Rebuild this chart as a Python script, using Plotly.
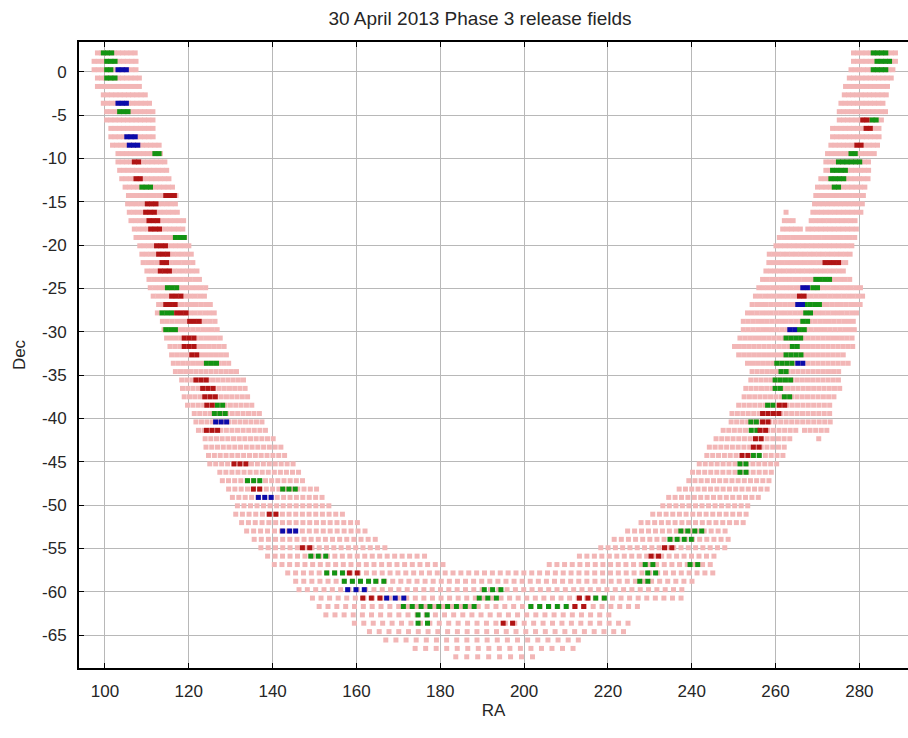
import math
import plotly.graph_objects as go

# ---------------- data ----------------
TITLE = "30 April 2013 Phase 3 release fields"
X_TICKS = [100, 120, 140, 160, 180, 200, 220, 240, 260, 280]
Y_TICKS = [0, -5, -10, -15, -20, -25, -30, -35, -40, -45, -50, -55, -60, -65]

# Declination of every row of survey fields (top to bottom)
ROW_DEC = [2.19, 1.22, 0.25, -0.71, -1.68, -2.65, -3.62, -4.59, -5.55, -6.52,
           -7.49, -8.46, -9.43, -10.39, -11.36, -12.33, -13.30, -14.27, -15.23, -16.20,
           -17.17, -18.14, -19.11, -20.07, -21.04, -22.01, -22.98, -23.95, -24.91, -25.88,
           -26.85, -27.82, -28.79, -29.75, -30.72, -31.69, -32.66, -33.63, -34.59, -35.56,
           -36.53, -37.50, -38.47, -39.43, -40.40, -41.37, -42.34, -43.31, -44.27, -45.24,
           -46.21, -47.18, -48.15, -49.11, -50.08, -51.05, -52.02, -52.99, -53.95, -54.92,
           -55.89, -56.86, -57.83, -58.79, -59.76, -60.73, -61.70, -62.67, -63.63, -64.60,
           -65.57, -66.54, -67.51]

# RA of first / last field of the left arm (rows 62+ : whole row)
LEFT_FIRST = [98.2, 97.4, 97.4, 98.2, 98.2, 99.6, 99.6, 100.4, 100.4, 101.4,
              101.4, 101.8, 103.1, 103.1, 103.5, 104.0, 104.8, 105.6, 105.4, 105.8,
              106.2, 107.0, 107.4, 108.3, 108.8, 109.1, 110.0, 110.5, 110.8, 111.5,
              112.8, 112.5, 113.7, 114.1, 114.7, 115.5, 115.9, 116.3, 116.8, 118.3,
              118.5, 118.9, 119.7, 121.3, 121.7, 122.3, 123.9, 124.1, 124.7, 125.0,
              127.4, 128.0, 129.5, 130.4, 131.6, 131.2, 132.6, 133.8, 135.6, 137.2,
              138.8, 140.4,
              143.6, 145.5, 146.3, 149.5, 151.1, 152.7, 159.5, 163.1, 167.0, 174.0, 183.7]
LEFT_LAST = [107.0, 107.9, 107.9, 108.7, 108.7, 109.7, 110.9, 111.1, 111.3, 111.9,
             111.9, 113.3, 113.3, 114.1, 114.3, 114.9, 115.9, 116.5, 117.1, 117.7,
             118.5, 118.5, 119.3, 119.7, 120.3, 120.7, 121.7, 122.1, 123.5, 123.5,
             124.9, 125.7, 125.7, 126.8, 127.8, 128.3, 129.4, 130.0, 130.8, 132.6,
             133.2, 133.6, 135.2, 136.2, 138.0, 138.8, 139.6, 141.6, 142.4, 144.3,
             145.5, 146.7, 149.9, 151.4, 153.5, 156.3, 160.3, 162.2, 164.3, 167.4,
             176.6, 181.3,
             244.2, 239.7, 237.4, 237.1, 227.1, 219.9, 223.9, 223.1, 213.6, 212.8, 202.0]
# RA of first / last field of the right arm (rows 0..61)
RIGHT_FIRST = [278.6, 278.6, 278.0, 277.6, 276.7, 276.4, 275.6, 275.2, 275.2, 273.6,
               273.6, 273.2, 272.4, 272.0, 272.0, 270.8, 270.0, 269.6, 269.3, 268.9,
               268.5, 267.7, 260.9, 260.1, 258.5, 258.4, 257.7, 256.9, 256.0, 255.2,
               254.4, 253.3, 252.3, 252.3, 251.5, 250.2, 251.2, 253.3, 254.4, 254.1,
               252.9, 252.5, 251.2, 249.6, 249.4, 247.5, 245.8, 244.2, 243.6, 241.8,
               240.2, 239.3, 237.0, 234.5, 233.1, 230.7, 227.9, 224.7, 221.5, 218.3,
               213.2, 206.0]
RIGHT_LAST = [289.1, 289.1, 287.9, 287.7, 286.9, 286.8, 286.1, 285.8, 285.6, 284.8,
              284.4, 284.4, 284.0, 282.6, 282.6, 282.4, 281.2, 280.8, 280.4, 280.0,
              279.4, 279.2, 278.8, 278.0, 277.6, 276.8, 276.4, 277.2, 280.4, 280.8,
              280.0, 278.8, 278.4, 279.2, 278.6, 278.0, 276.4, 276.8, 275.6, 275.5,
              274.7, 274.4, 273.2, 273.2, 272.6, 264.5, 262.9, 261.7, 261.3, 259.7,
              259.7, 257.9, 257.3, 256.5, 254.1, 253.7, 252.9, 248.2, 249.4, 248.6,
              245.8, 245.0]
# isolated pieces of rows
EXTRA_ROW = [19, 20, 21, 45, 46]
EXTRA_FIRST = [262.5, 262.1, 261.7, 266.9, 270.3]
EXTRA_LAST = [262.5, 263.7, 265.7, 272.4, 270.3]

# released fields: row index, RA of first and last field of each block
GREEN_ROW = [0, 1, 2, 3, 7, 12, 16, 22, 28, 31, 33, 37, 42, 43, 51, 52, 60, 62, 63, 63,
             64, 65, 65, 66, 66, 67, 68, 57, 58, 61, 61, 62, 63, 0, 1, 2, 8, 12, 13, 14,
             15, 16, 27, 28, 30, 31, 32, 33, 34, 35, 36, 37, 38, 39, 40, 41, 42, 44, 45, 48,
             49, 50]
GREEN_FIRST = [99.6, 100.4, 100.4, 100.4, 103.5, 111.9, 108.8, 116.8, 114.9, 113.6, 114.5, 124.2,
               126.8, 126.1, 134.0, 142.4, 149.1, 152.9, 157.1, 164.6, 190.5, 189.3, 217.1,
               171.2, 201.6, 174.7, 174.7, 237.4, 234.8, 228.9, 239.6, 229.5, 227.6, 283.3,
               284.2, 283.3, 283.0, 278.0, 275.0, 273.6, 273.2, 274.0, 269.6, 268.9, 267.1,
               267.2, 266.5, 265.7, 262.5, 264.0, 262.5, 260.3, 261.3, 259.9, 259.9, 262.1,
               258.1, 254.1, 254.2, 254.7, 251.5, 251.5]
GREEN_LAST = [101.4, 102.2, 101.4, 102.3, 105.4, 112.9, 111.1, 119.0, 117.3, 115.9, 116.9, 127.0,
              128.4, 128.8, 136.8, 145.9, 152.7, 157.1, 162.2, 166.2, 194.5, 193.3, 219.0,
              187.3, 210.4, 177.0, 177.0, 242.6, 239.8, 231.0, 241.8, 231.5, 229.5, 286.1,
              287.0, 286.1, 284.0, 279.2, 279.8, 276.8, 276.4, 275.2, 272.8, 270.1, 270.7,
              268.4, 268.1, 267.2, 266.5, 265.4, 266.5, 264.1, 262.7, 263.7, 261.3, 263.7,
              259.7, 255.7, 255.3, 256.1, 252.9, 252.9]

RED_ROW = [13, 15, 17, 18, 19, 20, 21, 23, 24, 25, 26, 29, 30, 31, 32, 34, 35, 36, 39, 40,
           41, 42, 45, 49, 52, 55, 59, 62, 65, 68, 66, 65, 59, 60, 8, 9, 11, 25, 29, 42,
           43, 44, 45, 46, 47, 48]
RED_FIRST = [107.0, 107.4, 114.5, 110.1, 109.7, 110.5, 110.9, 112.3, 112.8, 113.6, 113.2, 115.9,
             114.5, 117.1, 120.2, 118.9, 118.9, 120.7, 121.7, 123.3, 123.8, 124.3, 124.2,
             130.8, 135.4, 139.2, 147.1, 158.3, 161.5, 195.0, 212.1, 213.2, 233.5, 230.3,
             280.8, 281.6, 279.4, 271.8, 265.7, 260.9, 256.9, 256.9, 256.3, 255.2, 254.7, 252.0]
RED_LAST = [108.2, 108.9, 116.5, 112.4, 112.0, 112.5, 113.3, 114.7, 115.1, 114.7, 115.6, 118.3,
            116.9, 119.0, 122.6, 121.3, 121.3, 121.8, 124.3, 125.7, 126.4, 125.7, 127.0,
            133.6, 136.8, 140.8, 149.1, 160.1, 165.4, 197.3, 214.0, 215.0, 235.2, 232.3,
            281.8, 282.6, 280.4, 274.9, 267.0, 262.2, 260.9, 258.1, 257.7, 256.5, 256.1, 253.5]

BLUE_ROW = [2, 6, 10, 11, 44, 53, 57, 57, 64, 65, 28, 30, 33, 37]
BLUE_FIRST = [103.1, 103.1, 105.2, 105.8, 126.4, 136.6, 142.4, 145.5, 157.9, 167.2,
              266.5, 265.3, 263.4, 265.3]
BLUE_LAST = [105.4, 105.4, 107.1, 107.6, 129.2, 139.6, 144.0, 145.5, 161.9, 171.2,
             267.5, 265.9, 264.5, 266.2]

PINK = "#f2b6b6"
GREEN = "#139313"
RED = "#b01414"
BLUE = "#0b0baa"


# ---------------- field tiling ----------------
def tile(rows, firsts, lasts):
    xs, ys = [], []
    for k, a, b in zip(rows, firsts, lasts):
        if a is None:
            continue
        dec = ROW_DEC[k]
        step = 1.0 / math.cos(math.radians(dec))   # RA spacing of 1-degree fields
        n = int(round((b - a) / step)) + 1
        for i in range(max(n, 1)):
            xs.append(a + i * step)
            ys.append(dec)
    return xs, ys


rows_all = list(range(len(ROW_DEC)))
px, py = tile(rows_all, LEFT_FIRST, LEFT_LAST)
qx, qy = tile(list(range(len(RIGHT_FIRST))), RIGHT_FIRST, RIGHT_LAST)
ex, ey = tile(EXTRA_ROW, EXTRA_FIRST, EXTRA_LAST)
pink_x, pink_y = px + qx + ex, py + qy + ey

gx, gy = tile(GREEN_ROW, GREEN_FIRST, GREEN_LAST)
rx, ry = tile(RED_ROW, RED_FIRST, RED_LAST)
bx, by = tile(BLUE_ROW, BLUE_FIRST, BLUE_LAST)

fig = go.Figure()
for xs, ys, col in [(pink_x, pink_y, PINK), (gx, gy, GREEN), (rx, ry, RED), (bx, by, BLUE)]:
    fig.add_trace(go.Scatter(
        x=xs, y=ys, mode="markers", hoverinfo="skip", showlegend=False,
        marker=dict(symbol="square", size=5, color=col, line=dict(width=0)),
    ))

FONT = "Liberation Sans, Arial, sans-serif"
TXT = "#262626"

fig.update_layout(
    width=908, height=738,
    margin=dict(l=79, r=0, t=42, b=70),
    paper_bgcolor="white", plot_bgcolor="white",
    font=dict(family=FONT, size=16, color=TXT),
    title=dict(text=TITLE, x=(480 - 79) / 829, xref="paper", xanchor="center",
               y=1 - 18 / 738, yref="container", yanchor="middle",
               font=dict(family=FONT, size=19, color=TXT)),
)
fig.update_xaxes(
    range=[93.8, 291.6], tickvals=X_TICKS, ticktext=[str(v) for v in X_TICKS],
    showgrid=True, gridcolor="#b8b8b8", gridwidth=1, zeroline=False,
    showline=True, linecolor="black", linewidth=2, mirror="ticks",
    ticks="inside", ticklen=5, tickcolor="black", tickwidth=1,
    ticklabelstandoff=7, tickfont=dict(size=17),
    title=dict(text="RA", standoff=4, font=dict(family=FONT, size=17)),
)
fig.update_yaxes(
    range=[-68.8, 3.45], tickvals=Y_TICKS, ticktext=[str(v) for v in Y_TICKS],
    showgrid=True, gridcolor="#b8b8b8", gridwidth=1, zeroline=False,
    showline=True, linecolor="black", linewidth=2,
    ticks="inside", ticklen=5, tickcolor="black", tickwidth=1,
    ticklabelstandoff=7, tickfont=dict(size=17),
    title=dict(text="Dec", standoff=12, font=dict(family=FONT, size=17)),
)

fig.write_html("out.html")
